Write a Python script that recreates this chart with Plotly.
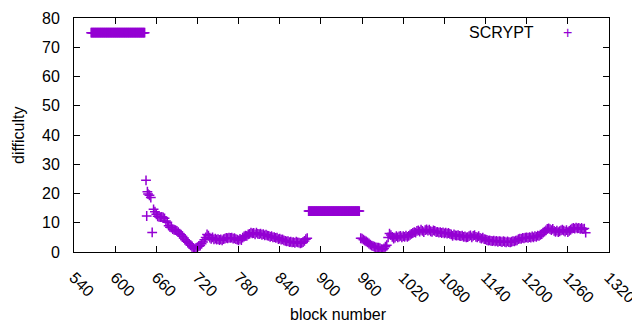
import plotly.graph_objects as go

# ---- data ----
# segment A: constant difficulty at start (one point per block)
seg_a_blocks = list(range(565, 644))
seg_a_diff = [75, 75, 75, 75, 75, 75, 75, 75, 75, 75,
              75, 75, 75, 75, 75, 75, 75, 75, 75, 75,
              75, 75, 75, 75, 75, 75, 75, 75, 75, 75,
              75, 75, 75, 75, 75, 75, 75, 75, 75, 75,
              75, 75, 75, 75, 75, 75, 75, 75, 75, 75,
              75, 75, 75, 75, 75, 75, 75, 75, 75, 75,
              75, 75, 75, 75, 75, 75, 75, 75, 75, 75,
              75, 75, 75, 75, 75, 75, 75, 75, 75]

# segment B: scattered retarget points
seg_b_blocks = [645, 646, 647, 648, 650, 652, 654, 656, 658, 660, 662, 664, 666, 668, 670, 672]
seg_b_diff = [24.5, 12.3, 20.6, 19.8, 19.4, 18.6, 6.7, 14.6, 13.8, 12.9, 12.2, 12.0, 11.9, 12.0, 11.8, 11.5]

# segment C
seg_c_blocks = list(range(674, 882, 2))
seg_c_diff = [10.6, 10.2, 9.0, 8.5, 8.3, 7.8, 7.6, 7.5, 7.2, 6.8,
              6.3, 5.9, 5.4, 4.8, 4.2, 3.7, 3.3, 2.8, 2.3, 1.8,
              1.4, 1.0, 1.4, 1.7, 2.0, 2.2, 2.8, 3.4, 4.2, 5.0,
              6.0, 5.6, 4.9, 4.5, 5.0, 4.3, 4.6, 4.2, 4.4, 4.1,
              4.3, 4.0, 4.4, 4.6, 4.8, 4.7, 4.9, 4.8, 4.9, 4.6,
              4.7, 4.4, 4.2, 4.0, 4.5, 4.1, 4.9, 5.3, 5.6, 5.5,
              6.0, 6.2, 6.6, 6.4, 6.5, 6.0, 6.6, 6.2, 6.1, 6.3,
              5.9, 6.1, 5.7, 5.9, 5.6, 5.5, 5.2, 5.4, 5.0, 5.1,
              4.8, 4.9, 4.4, 4.6, 4.2, 4.3, 4.0, 3.8, 3.6, 3.7,
              3.4, 3.5, 3.3, 3.4, 3.1, 3.5, 3.3, 3.2, 3.0, 3.1,
              3.4, 3.8, 4.4, 4.7]

# segment D: constant plateau (one point per block)
seg_d_blocks = list(range(882, 957))
seg_d_diff = [14, 14, 14, 14, 14, 14, 14, 14, 14, 14,
              14, 14, 14, 14, 14, 14, 14, 14, 14, 14,
              14, 14, 14, 14, 14, 14, 14, 14, 14, 14,
              14, 14, 14, 14, 14, 14, 14, 14, 14, 14,
              14, 14, 14, 14, 14, 14, 14, 14, 14, 14,
              14, 14, 14, 14, 14, 14, 14, 14, 14, 14,
              14, 14, 14, 14, 14, 14, 14, 14, 14, 14,
              14, 14, 14, 14, 14]

# segment E
seg_e_blocks = list(range(958, 1288, 2))
seg_e_diff = [4.7, 4.6, 4.2, 3.9, 3.6, 3.3, 2.9, 2.5, 2.2, 2.0,
              1.8, 1.6, 1.5, 1.5, 1.3, 1.0, 0.8, 1.2, 1.8, 2.3,
              5.0, 6.3, 5.8, 5.2, 4.6, 4.9, 5.4, 5.0, 5.3, 5.5,
              5.0, 5.4, 5.2, 5.6, 5.2, 5.5, 5.9, 6.2, 6.5, 6.8,
              6.6, 7.2, 7.4, 7.0, 7.6, 7.2, 6.8, 7.5, 7.7, 7.3,
              7.6, 7.1, 6.9, 7.4, 7.2, 6.8, 6.9, 6.6, 6.8, 6.5,
              6.7, 6.4, 6.6, 6.3, 6.5, 6.2, 6.0, 5.5, 6.0, 5.7,
              5.6, 5.8, 5.5, 5.4, 5.6, 5.2, 5.3, 5.0, 5.1, 5.4,
              5.7, 5.0, 5.5, 5.8, 5.2, 5.0, 5.4, 4.8, 4.6, 4.9,
              4.4, 4.3, 4.1, 3.9, 4.0, 3.8, 3.7, 3.9, 3.6, 3.8,
              3.5, 3.7, 3.6, 3.4, 3.7, 3.5, 3.3, 3.6, 3.4, 3.3,
              3.5, 3.7, 3.6, 3.9, 4.0, 4.4, 4.6, 4.5, 4.8, 4.7,
              4.9, 5.0, 4.8, 5.1, 4.9, 5.3, 5.0, 5.4, 5.2, 5.6,
              5.5, 5.9, 6.1, 6.6, 7.0, 7.4, 7.9, 8.1, 7.8, 7.5,
              7.9, 7.2, 6.9, 7.3, 6.8, 7.1, 7.4, 7.6, 7.3, 7.0,
              7.5, 6.8, 7.2, 7.6, 8.0, 8.2, 8.0, 8.3, 8.1, 8.2,
              7.9, 8.2, 7.8, 8.0, 6.6]

x_ticks = [540, 600, 660, 720, 780, 840, 900, 960, 1020, 1080, 1140, 1200, 1260, 1320]
y_ticks = [0, 10, 20, 30, 40, 50, 60, 70, 80]
series_name = "SCRYPT"
x_title = "block number"
y_title = "difficulty"

segments = [(seg_a_blocks, seg_a_diff), (seg_b_blocks, seg_b_diff), (seg_c_blocks, seg_c_diff),
            (seg_d_blocks, seg_d_diff), (seg_e_blocks, seg_e_diff)]
for bx, by in segments:
    assert len(bx) == len(by), (len(bx), len(by))

blocks = [b for bx, _ in segments for b in bx]
diffs = [d for _, by in segments for d in by]

COLOR = "#9400D3"
FONT = "Liberation Sans, Arial, sans-serif"
FS = 16

fig = go.Figure()
fig.add_trace(go.Scatter(
    x=blocks, y=diffs, mode="markers", name=series_name, showlegend=False,
    marker=dict(symbol="cross-thin", size=7, line=dict(width=1.5, color=COLOR), color=COLOR),
))

axis_common = dict(
    showline=True, linecolor="black", linewidth=1, mirror="allticks",
    ticks="inside", ticklen=6, tickcolor="black", tickwidth=1,
    showgrid=False, zeroline=False, automargin=False,
    tickfont=dict(family=FONT, size=FS, color="black"),
)

# the page body adds an 8px margin, so the figure is 8px smaller and margins compensate
fig.update_layout(
    width=632, height=322,
    margin=dict(l=66, r=31, t=10, b=78, autoexpand=False),
    paper_bgcolor="white", plot_bgcolor="white",
    font=dict(family=FONT, size=FS, color="black"),
    xaxis=dict(range=[540, 1320], tickvals=x_ticks, ticktext=[str(v) for v in x_ticks],
               tickangle=45, ticklabelstandoff=9, **axis_common),
    yaxis=dict(range=[0, 80], tickvals=y_ticks, ticktext=[str(v) for v in y_ticks],
               ticklabelstandoff=10, **axis_common),
    annotations=[
        dict(text=x_title, xref="paper", yref="paper", x=0.495, y=-0.269,
             xanchor="center", yanchor="middle", showarrow=False,
             font=dict(family=FONT, size=FS, color="black")),
        dict(text=y_title, xref="paper", yref="paper", x=-0.1047, y=0.5, textangle=-90,
             xanchor="center", yanchor="middle", showarrow=False,
             font=dict(family=FONT, size=FS, color="black")),
        dict(text=series_name, xref="paper", yref="paper", x=0.864, y=0.94,
             xanchor="right", yanchor="middle", showarrow=False,
             font=dict(family=FONT, size=FS, color="black")),
        dict(text="+", xref="paper", yref="paper", x=0.9215, y=0.94,
             xanchor="center", yanchor="middle", showarrow=False,
             font=dict(family=FONT, size=FS, color=COLOR)),
    ],
)

fig.write_html("out.html")
